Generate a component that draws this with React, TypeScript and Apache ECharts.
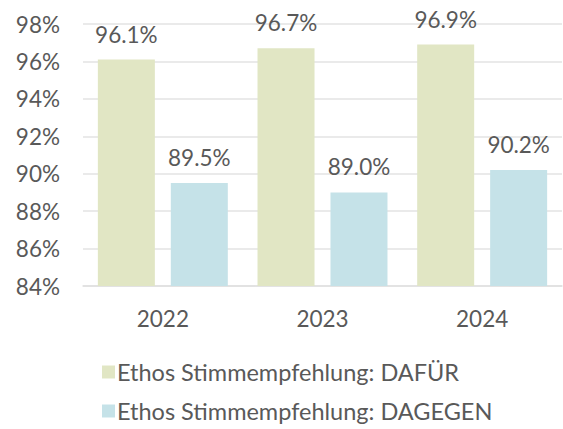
import React, { useEffect, useRef } from "react";
import * as echarts from "echarts";

const years = ["2022", "2023", "2024"];
const dafuer = [96.1, 96.7, 96.9];
const dagegen = [89.5, 89.0, 90.2];
const seriesNames = ["Ethos Stimmempfehlung: DAFÜR", "Ethos Stimmempfehlung: DAGEGEN"];

export default function App() {
  const ref = useRef<HTMLDivElement>(null);
  useEffect(() => {
    const chart = echarts.init(ref.current!, null, { renderer: "svg" });
    const textColor = "#595959";
    const font = "Lato";
    const label = {
      show: true,
      position: "top",
      distance: 14,
      color: textColor,
      fontFamily: font,
      fontSize: 22.5,
      formatter: (p: any) => p.value.toFixed(1) + "%",
    };
    const legendBase = {
      orient: "vertical",
      left: 97,
      itemWidth: 13,
      itemHeight: 13,
      icon: "rect",
      textStyle: { color: textColor, fontFamily: font, fontSize: 23.5, padding: [0, 0, 0, -3] },
    };
    chart.setOption({
      animation: false,
      grid: { left: 83, right: 1, top: 24, bottom: 143 },
      legend: [
        { ...legendBase, top: 355, data: [seriesNames[0]] },
        { ...legendBase, top: 394, data: [seriesNames[1]] },
      ],
      xAxis: {
        type: "category",
        data: years,
        axisLine: { lineStyle: { color: "#e0e0e0", width: 1.5 } },
        axisTick: { show: false },
        axisLabel: { color: textColor, fontFamily: font, fontSize: 22.5, margin: 21 },
      },
      yAxis: {
        type: "value",
        min: 84,
        max: 98,
        interval: 2,
        axisLine: { show: false },
        axisTick: { show: false },
        splitLine: { lineStyle: { color: "#e3e3e3", width: 1.5 } },
        axisLabel: {
          color: textColor,
          fontFamily: font,
          fontSize: 22.5,
          margin: 23,
          formatter: (v: number) => v + "%",
        },
      },
      series: [
        {
          name: seriesNames[0],
          type: "bar",
          data: dafuer,
          barWidth: 57,
          barGap: "28%",
          itemStyle: { color: "#e1e6c4" },
          label,
        },
        {
          name: seriesNames[1],
          type: "bar",
          data: dagegen,
          barWidth: 57,
          itemStyle: { color: "#c5e2e8" },
          label,
        },
      ],
    });
    return () => chart.dispose();
  }, []);
  return <div ref={ref} style={{ width: 563, height: 429, position: "absolute", left: 0, top: 0 }} />;
}
